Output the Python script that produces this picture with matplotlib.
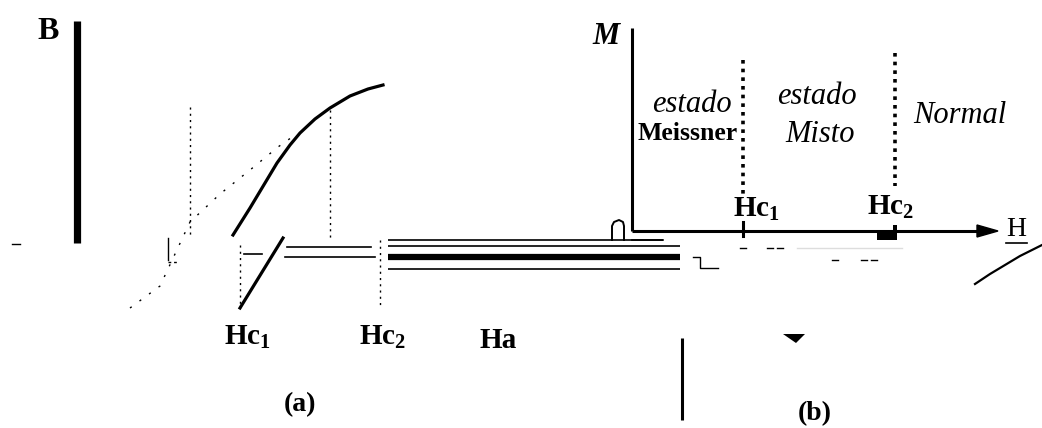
import numpy as np
import matplotlib
matplotlib.use("Agg")
import matplotlib.pyplot as plt
from matplotlib.patches import Polygon

plt.rcParams['font.family'] = ['Liberation Serif', 'DejaVu Serif']
plt.rcParams['mathtext.fontset'] = 'custom'
plt.rcParams['mathtext.rm'] = 'Liberation Serif'
plt.rcParams['mathtext.bf'] = 'Liberation Serif:bold'
plt.rcParams['mathtext.it'] = 'Liberation Serif:italic'

# panel (a): B(Ha) magnetisation curve, drawn in pixel-like units
curve_x = [233, 250, 265, 277, 290, 300, 315, 330, 350, 368, 383]
curve_y = [235, 208, 183, 163, 145, 133, 119, 108, 96, 89, 85]
lower_x = [240, 283]
lower_y = [308, 238]
diag_x = [130, 160, 190, 220, 250, 278, 295]
diag_y = [308, 286, 222, 194, 170, 147, 135]

# horizontal traces to the right of Hc2 (y, x_start, x_end, linewidth)
trace_y = [240, 246, 257, 269]
trace_x0 = [388, 388, 388, 388]
trace_x1 = [663, 680, 680, 680]
trace_lw = [1.2, 1.2, 4.5, 1.2]
short_y = [247, 257]
short_x0 = [287, 285]
short_x1 = [371, 375]

# panel (b): M(H) phase diagram
hc1_b, hc2_b = 743, 895
phase_labels = ["estado", "Meissner", "estado", "Misto", "Normal"]
phase_x = [692, 688, 817, 820, 960]
phase_y = [104, 134, 96, 134, 115]

fig = plt.figure(figsize=(10.42, 4.28), dpi=100)
ax = fig.add_axes([0, 0, 1, 1])
ax.set_xlim(0, 1042)
ax.set_ylim(428, 0)
ax.axis('off')

# ---- panel (a)
ax.plot([77, 77], [21, 243], color='black', lw=5.2, solid_capstyle='butt')
ax.plot([12, 20], [244, 244], color='black', lw=1)
ax.text(48, 31, "B", fontsize=23, fontweight='bold', ha='center', va='center')

ax.plot(curve_x, curve_y, color='black', lw=2.3)
ax.plot(lower_x, lower_y, color='black', lw=2.3)
ax.plot(diag_x, diag_y, color='black', lw=1, ls=(0, (1.5, 7)))

for xv, y0, y1 in [(190, 107, 238), (330, 110, 238), (240, 245, 308), (380, 240, 308)]:
    ax.plot([xv, xv], [y0, y1], color='black', lw=1, ls=(0, (1.5, 3)))

ax.plot([168, 168], [238, 260], color='black', lw=1)
ax.plot([168, 178], [262, 262], color='black', lw=1, ls=(0, (2, 2)))
ax.plot([244, 262], [254, 254], color='black', lw=1.2)

for y, x0, x1 in zip(short_y, short_x0, short_x1):
    ax.plot([x0, x1], [y, y], color='black', lw=1.2)
for y, x0, x1, lw in zip(trace_y, trace_x0, trace_x1, trace_lw):
    ax.plot([x0, x1], [y, y], color='black', lw=lw, solid_capstyle='butt')

ax.text(247, 337, r"$\mathbf{Hc_1}$", fontsize=21, ha='center', va='center')
ax.text(383, 337, r"$\mathbf{Hc_2}$", fontsize=21, ha='center', va='center')
ax.text(498, 341, "Ha", fontsize=21, fontweight='bold', ha='center', va='center')
ax.text(300, 405, "(a)", fontsize=20, fontweight='bold', ha='center', va='center')

# ---- panel (b)
ax.plot([632, 632], [28, 231], color='black', lw=2.2, solid_capstyle='butt')
ax.plot([632, 980], [231, 231], color='black', lw=2.2, solid_capstyle='butt')
ax.add_patch(Polygon([[977, 225], [998, 231], [977, 237]], closed=True,
                     facecolor='black', edgecolor='black'))
ax.text(606, 36, "M", fontsize=22, style='italic', fontweight='bold', ha='center', va='center')
ax.text(1016, 229, "H", fontsize=20, ha='center', va='center')
ax.plot([1006, 1027], [243, 243], color='black', lw=1.2)

for xv, y0, y1 in [(hc1_b, 60, 197), (hc2_b, 53, 186)]:
    ax.plot([xv, xv], [y0, y1], color='black', lw=2.6, ls=(0, (1, 1.4)),
            dash_capstyle='butt')
ax.plot([hc1_b, hc1_b], [222, 236], color='black', lw=2.2)
ax.add_patch(Polygon([[877, 232], [893, 232], [893, 225], [897, 225], [897, 240], [877, 240]],
                     closed=True, facecolor='black', edgecolor='none'))

ax.text(756, 209, r"$\mathbf{Hc_1}$", fontsize=21, ha='center', va='center')
ax.text(891, 207, r"$\mathbf{Hc_2}$", fontsize=21, ha='center', va='center')

for label, x, y in zip(phase_labels, phase_x, phase_y):
    if label == "Meissner":
        ax.text(x, y, label, fontsize=18.5, fontweight='bold', ha='center', va='center')
    else:
        ax.text(x, y, label, fontsize=22, style='italic', ha='center', va='center')

# origin glyph and loose traces near the origin
ax.plot([612, 612, 614, 619, 623, 624, 624], [240, 226, 222, 220, 222, 226, 240],
        color='black', lw=1.4)
ax.plot([632, 663], [240, 240], color='black', lw=1.2)
ax.plot([693, 700, 700, 718], [257, 257, 268, 268], color='black', lw=1)
ax.plot([797, 902], [248, 248], color='#dddddd', lw=1)
for xv, yv in [(743, 248), (770, 248), (780, 248), (835, 260), (864, 260), (874, 260)]:
    ax.plot([xv - 3, xv + 3], [yv, yv], color='black', lw=1)

ax.plot([975, 990, 1005, 1020, 1042], [284, 274, 265, 256, 245], color='black', lw=1.6)

ax.plot([682, 682], [338, 420], color='black', lw=2.2, solid_capstyle='butt')
ax.add_patch(Polygon([[783, 334], [805, 334], [796, 343]], closed=True,
                     facecolor='black', edgecolor='none'))
ax.text(815, 414, "(b)", fontsize=20, fontweight='bold', ha='center', va='center')

fig.savefig("out.png", dpi=100, facecolor='white')
